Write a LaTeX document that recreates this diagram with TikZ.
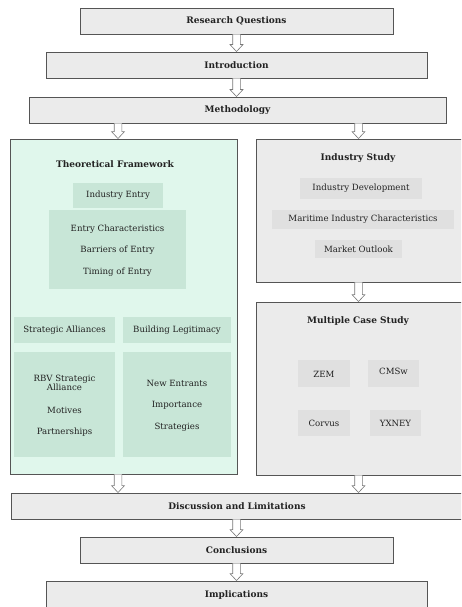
\documentclass[tikz,border=0pt]{standalone}
\usepackage{fontspec}
\setmainfont{DejaVu Serif}
\usetikzlibrary{calc}
\definecolor{boxgray}{RGB}{235,235,235}
\definecolor{innergray}{RGB}{224,224,224}
\definecolor{mint}{RGB}{224,247,236}
\definecolor{innergreen}{RGB}{200,230,215}
\definecolor{bordercol}{RGB}{85,85,85}
\definecolor{arrowcol}{RGB}{120,120,120}
\definecolor{txt}{RGB}{34,34,34}
\tikzset{
  mainbox/.style={draw=bordercol, line width=0.9pt, fill=boxgray, inner sep=0pt, text=txt, font=\fontsize{9}{10}\selectfont\bfseries},
  greenbox/.style={draw=bordercol, line width=0.9pt, fill=mint, inner sep=0pt},
  graybig/.style={draw=bordercol, line width=0.9pt, fill=boxgray, inner sep=0pt},
  gin/.style={fill=innergreen, inner sep=0pt},
  rin/.style={fill=innergray, inner sep=0pt},
  ttl/.style={text=txt, font=\fontsize{9}{10}\selectfont\bfseries, inner sep=0pt},
  lbl/.style={text=txt, font=\fontsize{8.6}{10.5}\selectfont, inner sep=0pt, align=center},
  arrowsty/.style={draw=arrowcol, line width=0.6pt, fill=white, line join=miter}
}
\newcommand{\blockarrow}[2]{%
  \path[arrowsty] let \p1=#1, \p2=#2 in
    (\x1-3.8pt,\y1) -- (\x1-3.8pt,\y2+7pt) -- (\x1-6.5pt,\y2+7pt) -- (\x1,\y2)
    -- (\x1+6.5pt,\y2+7pt) -- (\x1+3.8pt,\y2+7pt) -- (\x1+3.8pt,\y1);}
\begin{document}
\begin{tikzpicture}[x=1pt,y=-1pt]
\useasboundingbox (0,0) rectangle (461,607);
\clip (0,0) rectangle (461,607);
\fill[white] (0,0) rectangle (461,607);
% top chain
\node[mainbox, minimum width=313pt, minimum height=26pt] (rq) at (236.5,21) {Research Questions};
\node[mainbox, minimum width=381pt, minimum height=26pt] (intro) at (236.5,65) {Introduction};
\node[mainbox, minimum width=417pt, minimum height=26pt] (meth) at (237.5,110) {Methodology};
% theoretical framework
\node[greenbox, minimum width=227pt, minimum height=335pt] (tf) at (123.5,306.5) {};
\node[ttl] (tft) at (115,164) {Theoretical Framework};
\node[gin, minimum width=90pt, minimum height=25pt] (ie) at (118,195.5) {};
\node[lbl] (iet) at (118,195.5) {Industry Entry};
\node[gin, minimum width=137pt, minimum height=79pt] (ec) at (117.5,249.5) {};
\node[lbl] (ec1) at (117.5,229) {Entry Characteristics};
\node[lbl] (ec2) at (117.5,250) {Barriers of Entry};
\node[lbl] (ec3) at (117.5,272) {Timing of Entry};
\node[gin, minimum width=101pt, minimum height=26pt] (sa) at (64.5,330) {};
\node[lbl] (sat) at (64.5,330) {Strategic Alliances};
\node[gin, minimum width=108pt, minimum height=26pt] (bl) at (177,330) {};
\node[lbl] (blt) at (177,330) {Building Legitimacy};
\node[gin, minimum width=101pt, minimum height=105pt] (rbv) at (64.5,404.5) {};
\node[lbl] (rbv1) at (64.5,383) {RBV Strategic\\[-1.5pt]Alliance};
\node[lbl] (rbv2) at (64.5,410) {Motives};
\node[lbl] (rbv3) at (64.5,432) {Partnerships};
\node[gin, minimum width=108pt, minimum height=105pt] (ne) at (177,404.5) {};
\node[lbl] (ne1) at (177,383) {New Entrants};
\node[lbl] (ne2) at (177,405) {Importance};
\node[lbl] (ne3) at (177,427) {Strategies};
% industry study
\node[graybig, minimum width=219pt, minimum height=143pt] (is) at (365.5,210.5) {};
\node[ttl] (ist) at (358,158) {Industry Study};
\node[rin, minimum width=122pt, minimum height=21pt] (id) at (361,188.5) {};
\node[lbl] (idt) at (361,188.5) {Industry Development};
\node[rin, minimum width=182pt, minimum height=19pt] (mic) at (363,219.5) {};
\node[lbl] (mict) at (363,219.5) {Maritime Industry Characteristics};
\node[rin, minimum width=87pt, minimum height=18pt] (mo) at (358.5,249) {};
\node[lbl] (mot) at (358.5,249) {Market Outlook};
% multiple case study
\node[graybig, minimum width=219pt, minimum height=173pt] (mcs) at (365.5,388.5) {};
\node[ttl] (mcst) at (358,321) {Multiple Case Study};
\node[rin, minimum width=52pt, minimum height=27pt] (zem) at (324,373.5) {};
\node[lbl] (zemt) at (324,374) {ZEM};
\node[rin, minimum width=51pt, minimum height=27pt] (cmsw) at (393.5,373.5) {};
\node[lbl] (cmswt) at (393.5,371) {CMSw};
\node[rin, minimum width=52pt, minimum height=26pt] (corvus) at (324,423) {};
\node[lbl] (corvust) at (324,423) {Corvus};
\node[rin, minimum width=51pt, minimum height=26pt] (yxney) at (395.5,423) {};
\node[lbl] (yxneyt) at (395.5,423) {YXNEY};
% bottom chain
\node[mainbox, minimum width=464pt, minimum height=26pt] (disc) at (243,506) {};
\node[ttl] (disct) at (237,506) {Discussion and Limitations};
\node[mainbox, minimum width=313pt, minimum height=26pt] (concl) at (236.5,550) {Conclusions};
\node[mainbox, minimum width=381pt, minimum height=30pt] (impl) at (236.5,596) {};
\node[ttl] (implt) at (236.5,595) {Implications};
% arrows
\blockarrow{(rq.south)}{(intro.north)}
\blockarrow{(intro.south)}{(meth.north)}
\blockarrow{(meth.south -| ie.center)}{(tf.north -| ie.center)}
\blockarrow{(meth.south -| mo.center)}{(is.north -| mo.center)}
\blockarrow{(is.south -| mo.center)}{(mcs.north -| mo.center)}
\blockarrow{(tf.south -| ie.center)}{(disc.north -| ie.center)}
\blockarrow{(mcs.south -| mo.center)}{(disc.north -| mo.center)}
\blockarrow{(disc.south -| concl.center)}{(concl.north)}
\blockarrow{(concl.south)}{(impl.north)}
\end{tikzpicture}
\end{document}
